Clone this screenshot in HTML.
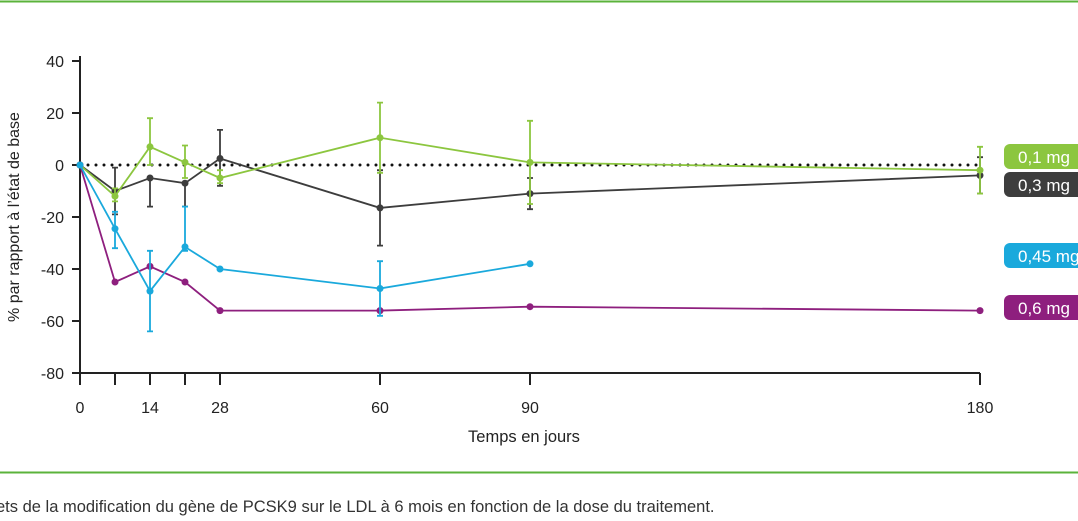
<!DOCTYPE html>
<html><head><meta charset="utf-8"><style>
body{margin:0;background:#fff;width:1078px;height:516px;overflow:hidden;font-family:"Liberation Sans",sans-serif}
</style></head><body>
<svg width="1078" height="516" xmlns="http://www.w3.org/2000/svg">
<line x1="0" y1="1.5" x2="1078" y2="1.5" stroke="#5bb33b" stroke-width="2"/>
<line x1="0" y1="472.5" x2="1078" y2="472.5" stroke="#5bb33b" stroke-width="2"/>
<text x="-4" y="512" font-size="16.5" fill="#333">ets de la modification du gène de PCSK9 sur le LDL à 6 mois en fonction de la dose du traitement.</text>
<g id="plot"></g>
</svg>
<script>
const days=[0,7,14,21,28,60,90,180];
const greenVals=[0,-12,7,1,-5,10.5,1,-2];
const greenHi=[0,-9,18,7.5,-2,24,17,7];
const greenLo=[0,-14,0,-5,-7,-3,-15,-11];
const grayVals=[0,-10,-5,-7,2.5,-16.5,-11,-4];
const grayHi=[0,-1,-5,-7,13.5,-2,-5,3];
const grayLo=[0,-19,-16,-16,-8,-31,-17,-11];
const blueDays=[0,7,14,21,28,60,90];
const blueVals=[0,-24.5,-48.5,-31.5,-40,-47.5,-38];
const blueHi=[0,-18,-33,-16,-40,-37,-38];
const blueLo=[0,-32,-64,-33,-40,-58,-38];
const purpleVals=[0,-45,-39,-45,-56,-56,-54.5,-56];
const yTicks=[40,20,0,-20,-40,-60,-80];
const xTicks=[0,7,14,21,28,60,90,180];
const xLabels=["0","","14","","28","60","90","180"];
const legendLabels=["0,1 mg","0,3 mg","0,45 mg","0,6 mg"];

const NS="http://www.w3.org/2000/svg";
const g=document.getElementById('plot');
const X=d=>80+5*d, Y=v=>165-2.6*v;
function mk(t,a,p){const e=document.createElementNS(NS,t);for(const k in a)e.setAttribute(k,a[k]);(p||g).appendChild(e);return e;}
let e;
e=mk('line',{x1:80,y1:Y(40)-5,x2:80,y2:Y(-80),stroke:'#222','stroke-width':2});


e=mk('line',{x1:79,y1:Y(-80),x2:X(180),y2:Y(-80),stroke:'#222','stroke-width':2});


yTicks.forEach(v=>{
 e=mk('line',{x1:72,y1:Y(v),x2:80,y2:Y(v),stroke:'#222','stroke-width':2});
 
 
 e=mk('text',{x:64,y:Y(v)+6,'text-anchor':'end','font-size':16,fill:'#222'});e.textContent=v;
 
 
});
xTicks.forEach((d,i)=>{
 e=mk('line',{x1:X(d),y1:Y(-80),x2:X(d),y2:Y(-80)+12,stroke:'#222','stroke-width':2});
 
 
 if(xLabels[i]){e=mk('text',{x:X(d),y:413,'text-anchor':'middle','font-size':16,fill:'#222'});e.textContent=xLabels[i];
 
 }
});
e=mk('text',{x:524,y:442,'text-anchor':'middle','font-size':16.5,fill:'#222'});e.textContent='Temps en jours';


e=mk('text',{x:0,y:0,'text-anchor':'middle','font-size':16,fill:'#222',transform:'translate(19,217) rotate(-90)'});e.textContent='% par rapport à l’état de base';


e=mk('line',{x1:80,y1:Y(0),x2:X(180),y2:Y(0),stroke:'#111','stroke-width':3,'stroke-dasharray':'0 8','stroke-linecap':'round'});


function series(name,col,ds,vals,hi,lo){
 if(hi){ds.forEach((d,i)=>{if(hi[i]!==lo[i]){
  e=mk('path',{d:`M${X(d)},${Y(hi[i])}V${Y(lo[i])}M${X(d)-3},${Y(hi[i])}h6M${X(d)-3},${Y(lo[i])}h6`,stroke:col,'stroke-width':1.8,fill:'none'});
  
  }});}
 e=mk('polyline',{points:ds.map((d,i)=>X(d)+','+Y(vals[i])).join(' '),fill:'none',stroke:col,'stroke-width':1.8});
 
 
 ds.forEach((d,i)=>{e=mk('circle',{cx:X(d),cy:Y(vals[i]),r:3.5,fill:col});
  
  });
}
series('dose-0-3mg','#3d3d3d',days,grayVals,grayHi,grayLo);
series('dose-0-1mg','#8cc63f',days,greenVals,greenHi,greenLo);
series('dose-0-6mg','#8e1f7e',days,purpleVals,null,null);
series('dose-0-45mg','#1aa9dc',blueDays,blueVals,blueHi,blueLo);
const legCols=['#8cc63f','#3d3d3d','#1aa9dc','#8e1f7e'];
const legY=[157,185,256,308];
legendLabels.forEach((t,i)=>{
 e=mk('rect',{x:1004,y:legY[i]-13,width:90,height:25,rx:6,fill:legCols[i]});
 
 
 e=mk('text',{x:1018,y:legY[i]+6,'font-size':17,fill:'#fff'});e.textContent=t;
 
 
});
</script>
</body></html>
